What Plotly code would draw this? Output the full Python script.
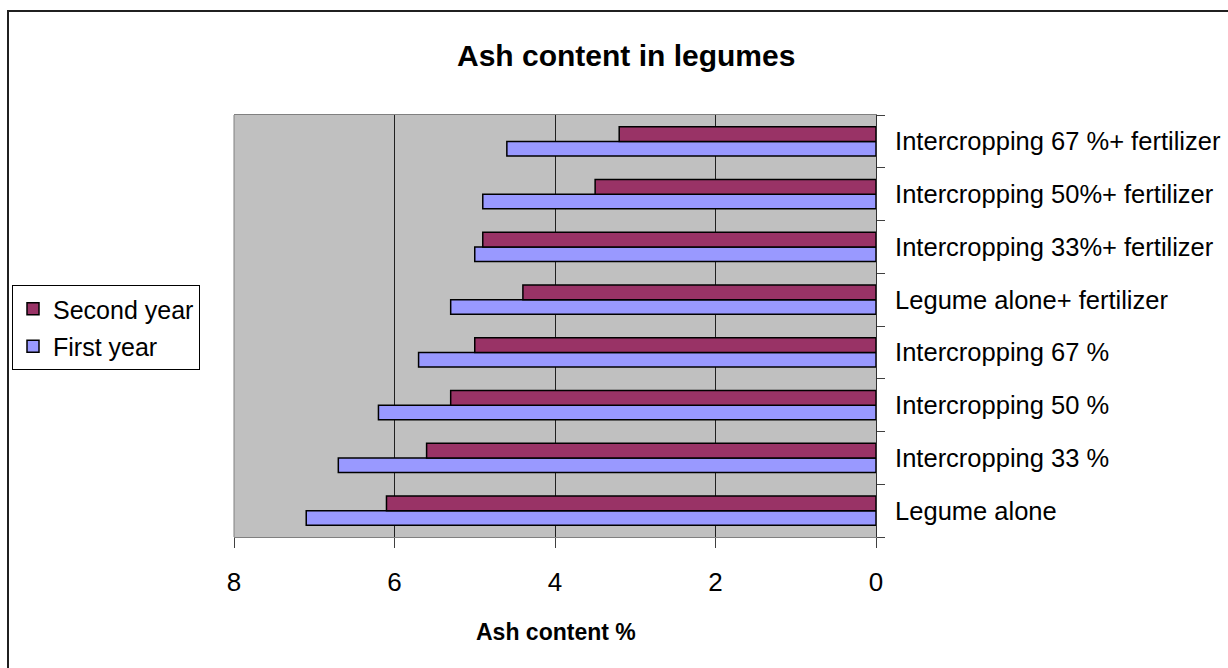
import plotly.graph_objects as go

# Treatments, bottom to top on the category axis
treatments = [
    "Legume alone",
    "Intercropping 33 %",
    "Intercropping 50 %",
    "Intercropping 67 %",
    "Legume alone+ fertilizer",
    "Intercropping 33%+ fertilizer",
    "Intercropping 50%+ fertilizer",
    "Intercropping 67 %+ fertilizer",
]

# Ash content (%) per season
first_year = [7.1, 6.7, 6.2, 5.7, 5.3, 5.0, 4.9, 4.6]
second_year = [6.1, 5.6, 5.3, 5.0, 4.4, 4.9, 3.5, 3.2]

x_ticks = [0, 2, 4, 6, 8]

FONT = "Liberation Sans, Arial, sans-serif"

W, H = 1228, 668
L, R, T, B = 234, 876, 115, 537  # plot-area edges in pixels

fig = go.Figure()
fig.add_trace(go.Bar(
    y=treatments, x=first_year, orientation="h", name="First year",
    legendgroup="a", legendrank=2,
    marker=dict(color="#9999FF", line=dict(color="black", width=1.5)),
))
fig.add_trace(go.Bar(
    y=treatments, x=second_year, orientation="h", name="Second year",
    legendgroup="b", legendrank=1,
    marker=dict(color="#993366", line=dict(color="black", width=1.5)),
))

pw, ph = R - L, B - T


def px(x):
    return (x - L) / pw


def py(y):
    return (B - y) / ph


fig.update_layout(
    width=W, height=H,
    margin=dict(l=L, r=W - R, t=T, b=H - B, pad=0, autoexpand=False),
    paper_bgcolor="white",
    plot_bgcolor="#C0C0C0",
    font=dict(family=FONT, color="black"),
    barmode="group",
    bargap=0.45,
    bargroupgap=0,
    showlegend=True,
    legend=dict(
        x=px(12), y=py(285), xanchor="left", yanchor="top",
        traceorder="grouped", tracegroupgap=2,
        bgcolor="white", bordercolor="black", borderwidth=1,
        font=dict(size=25, family=FONT),
        itemwidth=30,
    ),
    xaxis=dict(
        range=[8, 0], tickvals=x_ticks, ticktext=[str(v) for v in x_ticks],
        showgrid=True, gridcolor="#202020", gridwidth=1,
        zeroline=False, automargin=False,
        showline=True, linecolor="#808080", linewidth=1, mirror=True,
        ticks="outside", ticklen=10, tickcolor="#404040",
        tickfont=dict(size=26, family=FONT), ticklabelstandoff=12,
    ),
    yaxis=dict(
        side="right", type="category", automargin=False,
        showgrid=False, zeroline=False,
        showline=True, linecolor="#303030", linewidth=1,
        ticks="outside", ticklen=8, tickcolor="#404040",
        tickson="boundaries",
        tickfont=dict(size=25.5, family=FONT), ticklabelstandoff=13,
    ),
    annotations=[
        dict(text="<b>Ash content in legumes</b>", xref="paper", yref="paper",
             x=px(626), y=py(55), xanchor="center", yanchor="middle",
             showarrow=False, font=dict(size=30, family=FONT)),
        dict(text="<b>Ash content %</b>", xref="paper", yref="paper",
             x=px(556), y=py(632), xanchor="center", yanchor="middle",
             showarrow=False, font=dict(size=23, family=FONT)),
    ],
    shapes=[
        # left edge of the plot area
        dict(type="line", xref="paper", yref="paper", x0=0, x1=0, y0=0, y1=1,
             line=dict(color="#808080", width=1)),
        # chart frame
        dict(type="rect", xref="paper", yref="paper",
             x0=px(8), x1=px(1240), y0=py(680), y1=py(11),
             line=dict(color="#202020", width=2)),
    ],
)

fig.write_html("out.html")
